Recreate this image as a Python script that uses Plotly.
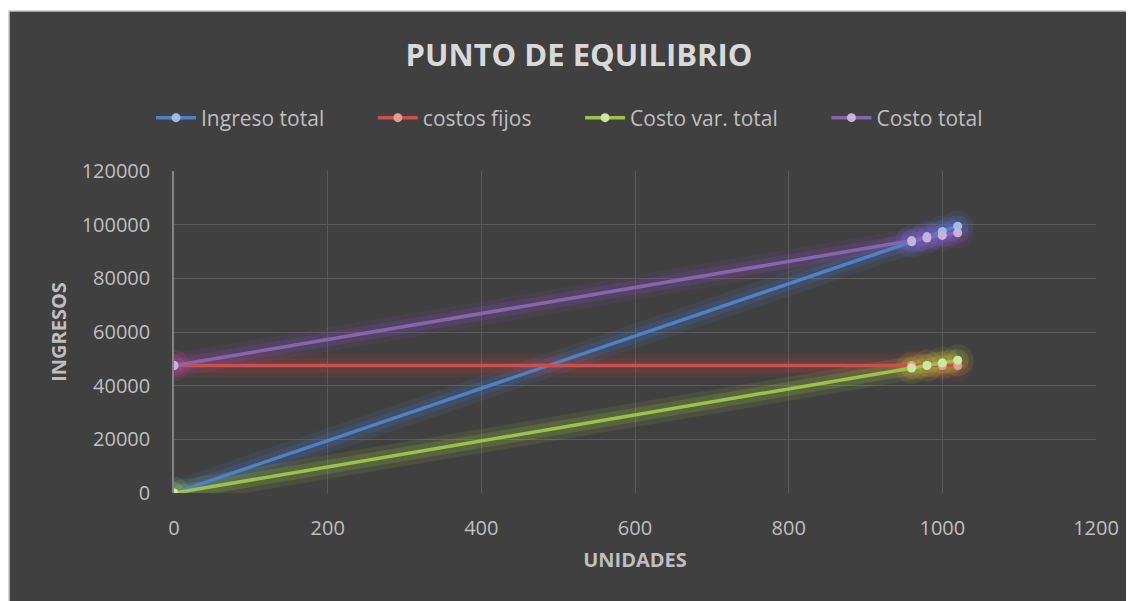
import plotly.graph_objects as go

# Unidades vendidas
unidades = [0, 960, 980, 1000, 1020]

# Series del punto de equilibrio
ingreso_total = [0, 93600, 95550, 97500, 99450]
costos_fijos = [47500, 47500, 47500, 47500, 47500]
costo_var_total = [0, 46560, 47530, 48500, 49470]
costo_total = [47500, 94060, 95030, 96000, 96970]

x_ticks = [0, 200, 400, 600, 800, 1000, 1200]
y_ticks = [0, 20000, 40000, 60000, 80000, 100000, 120000]

BG = '#404040'
FONT = 'Open Sans'
PAD = '&nbsp;' * 8  # extra room between legend entries

series = [
    ('Ingreso total', ingreso_total, '#4F81C6', '#9DBDE6', '74,126,220'),
    ('costos fijos', costos_fijos, '#C9504E', '#E59A98', '220,60,60'),
    ('Costo var. total', costo_var_total, '#9BC24A', '#CDE6A0', '170,220,60'),
    ('Costo total', costo_total, '#8565B0', '#C4B4DC', '150,80,200'),
]

fig = go.Figure()

# soft glow under each line (Excel "glow" effect)
for name, vals, col, mcol, rgb in series:
    for w, a in [(24, 0.10), (14, 0.16)]:
        fig.add_trace(go.Scatter(
            x=unidades, y=vals, mode='lines+markers',
            line=dict(color=f'rgba({rgb},{a})', width=w),
            marker=dict(size=w + 8, color=f'rgba({rgb},{a})'),
            showlegend=False, hoverinfo='skip'
        ))

for name, vals, col, mcol, rgb in series:
    fig.add_trace(go.Scatter(
        x=unidades, y=vals, name=name + PAD, mode='lines+markers',
        line=dict(color=col, width=3.5),
        marker=dict(size=9, color=mcol),
    ))

# the page body adds an 8px white margin, which gives the white frame
W, H = 1126, 593
L, R, T, B = 166, 38, 163, 108
pw, ph = W - L - R, H - T - B

fig.update_layout(
    width=W, height=H,
    paper_bgcolor='white',
    plot_bgcolor=BG,
    margin=dict(l=L, r=R, t=T, b=B),
    font=dict(family=FONT, color='#BFBFBF', size=18),
    title=dict(
        text='<b>PUNTO DE EQUILIBRIO</b>',
        font=dict(family=FONT, size=31, color='#D9D9D9'),
        x=571 / W, xref='container', xanchor='center',
        y=1 - 47 / H, yref='container', yanchor='middle',
    ),
    legend=dict(
        orientation='h',
        x=143 / W, xref='container', xanchor='left',
        y=1 - 110 / H, yref='container', yanchor='middle',
        font=dict(family=FONT, size=21, color='#BFBFBF'),
        itemwidth=40,
        bgcolor='rgba(0,0,0,0)',
    ),
    shapes=[dict(
        type='rect', xref='paper', yref='paper', layer='below',
        x0=(1 - L) / pw, x1=(W + 10 - L) / pw,
        y0=-(B + 10) / ph, y1=1 + (T - 3) / ph,
        fillcolor=BG, line=dict(color='#C8C8C8', width=1.5),
    )],
)

fig.update_xaxes(
    range=[0, 1200], tickvals=x_ticks, tickformat='d',
    showgrid=True, gridcolor='#5A5A5A', gridwidth=1,
    zeroline=False, showline=False,
    ticks='outside', ticklen=17, tickcolor='rgba(0,0,0,0)',
    tickfont=dict(size=20, color='#BFBFBF'),
    title=dict(text='<b>UNIDADES</b>', font=dict(size=20, color='#BFBFBF'), standoff=12),
)
fig.update_yaxes(
    range=[0, 120000], tickvals=y_ticks, tickformat='d',
    showgrid=True, gridcolor='#5A5A5A', gridwidth=1,
    zeroline=False, showline=True, linecolor='#858585', linewidth=1.5,
    ticks='outside', ticklen=18, tickcolor='rgba(0,0,0,0)',
    tickfont=dict(size=20, color='#BFBFBF'),
    title=dict(text='<b>INGRESOS</b>', font=dict(size=20, color='#BFBFBF'), standoff=10),
)

fig.write_html("out.html")
